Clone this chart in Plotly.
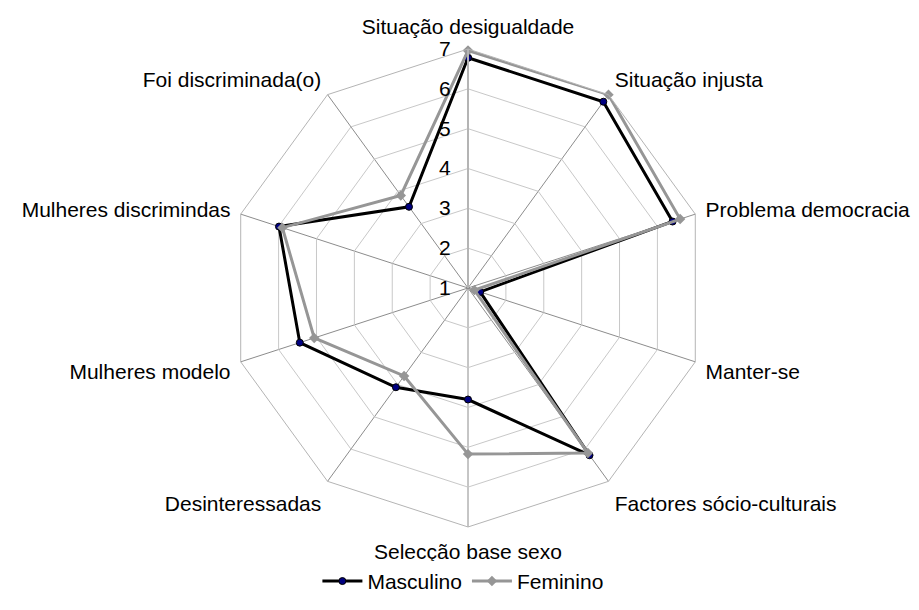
import plotly.graph_objects as go

categories = [
    "Situação desigualdade",
    "Situação injusta",
    "Problema democracia",
    "Manter-se",
    "Factores sócio-culturais",
    "Selecção base sexo",
    "Desinteressadas",
    "Mulheres modelo",
    "Mulheres discrimindas",
    "Foi discriminada(o)",
]
masculino = [6.78, 6.78, 6.4, 1.32, 6.19, 3.8, 4.08, 5.44, 5.99, 3.52]
feminino = [6.96, 7.0, 6.6, 1.17, 6.12, 5.17, 3.73, 5.06, 5.9, 3.87]
radial_ticks = [1, 2, 3, 4, 5, 6, 7]

# close the polygons
theta = categories + categories[:1]

fig = go.Figure()
fig.add_trace(
    go.Scatterpolar(
        r=masculino + masculino[:1],
        theta=theta,
        name="Masculino",
        mode="lines+markers",
        line=dict(color="#000000", width=3),
        marker=dict(symbol="circle", size=7, color="#000080",
                    line=dict(color="#000000", width=1)),
    )
)
fig.add_trace(
    go.Scatterpolar(
        r=feminino + feminino[:1],
        theta=theta,
        name="Feminino",
        mode="lines+markers",
        line=dict(color="#969696", width=3),
        marker=dict(symbol="diamond", size=8, color="#969696"),
    )
)

fig.update_layout(
    width=919,
    height=610,
    margin=dict(l=0, r=0, t=0, b=0),
    paper_bgcolor="white",
    plot_bgcolor="white",
    font=dict(family="Liberation Sans, Arial, sans-serif", size=21, color="#000000"),
    showlegend=True,
    legend=dict(
        orientation="h",
        x=0.495,
        xanchor="center",
        y=0.06,
        yanchor="middle",
        font=dict(size=21),
        itemwidth=40,
    ),
    polar=dict(
        domain=dict(x=[0.2405, 0.7606], y=[0.149, 0.933]),
        bgcolor="white",
        gridshape="linear",
        radialaxis=dict(
            range=[1, 7],
            tickvals=radial_ticks,
            angle=90,
            tickangle=90,
            side="counterclockwise",
            showline=True,
            linecolor="#b4b4b4",
            linewidth=2,
            gridcolor="#c8c8c8",
            gridwidth=1,
            ticks="outside",
            ticklen=9,
            tickcolor="rgba(0,0,0,0)",
            tickfont=dict(size=21),
        ),
        angularaxis=dict(
            direction="clockwise",
            rotation=90,
            showline=True,
            linecolor="#b4b4b4",
            linewidth=1,
            gridcolor="#8c8c8c",
            gridwidth=1,
            ticks="outside",
            ticklen=6,
            tickcolor="rgba(0,0,0,0)",
            tickfont=dict(size=21),
        ),
    ),
)

fig.write_html("out.html")
